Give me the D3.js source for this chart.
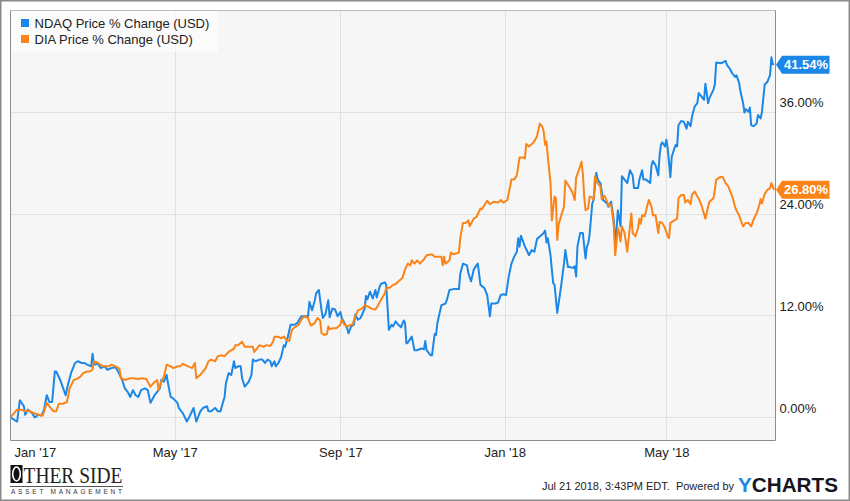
<!DOCTYPE html>
<html><head><meta charset="utf-8">
<script src="https://cdn.jsdelivr.net/npm/d3@7"></script>
<style>
body{margin:0;background:#fff}
svg{display:block}
text{font-family:"Liberation Sans",Arial,Helvetica,sans-serif}
</style>
</head><body>
<svg id="chart" width="850" height="501"></svg>
<script>
// ---- data ----
const startDate = "2016-12-30";
const seriesNames = ["NDAQ Price % Change (USD)", "DIA Price % Change (USD)"];
const seriesColors = ["#1b87e6", "#fb8418"];
const yTicks = [0, 12, 24, 36];
const xTickDates = ["2017-01-01", "2017-05-01", "2017-09-01", "2018-01-01", "2018-05-01"];
const lastValueLabels = ["41.54%", "26.80%"];
const footerText = "Jul 21 2018, 3:43PM EDT.  Powered by";

// days since startDate
const ndaqDays = [0,5,7,10,11,13,16,18,21,23,25,27,29,31,33,34,37,39,41,43,45,48,50,53,55,57,60,61,62,65,67,70,72,75,78,80,83,85,87,89,91,93,95,97,100,102,104,107,109,111,112,114,116,117,119,121,124,125,128,131,133,136,138,141,143,146,147,149,152,154,156,157,159,160,162,164,166,167,169,171,172,174,177,179,180,182,185,187,189,191,193,194,196,197,199,201,203,204,206,208,211,213,216,218,221,222,224,226,227,229,231,232,234,236,237,239,241,243,245,246,248,250,251,253,255,256,258,260,263,264,265,267,269,271,272,274,275,278,279,280,281,283,284,286,288,290,292,293,294,295,298,300,302,305,307,308,309,312,313,315,316,317,320,323,324,326,329,333,334,336,339,340,342,344,346,347,349,352,354,356,357,360,362,364,366,368,370,372,374,376,377,378,379,382,383,385,387,389,391,393,396,397,398,399,401,402,403,404,406,407,409,411,412,414,415,418,419,420,421,423,425,427,428,429,430,432,433,435,436,438,439,440,443,444,446,448,449,450,451,453,454,456,458,460,462,463,466,467,469,470,472,475,476,477,479,481,482,483,484,486,487,488,490,491,493,494,495,496,498,500,502,503,505,506,508,510,511,513,515,516,518,519,522,523,524,527,529,531,532,534,536,538,539,541,542,544,545,546,548,549,550,552,554,555,557,558,560,562,564,565,566,567];
const ndaqValues = [0,-0.5,2.0,1.3,0.3,0.9,0.5,0.0,0.3,0.2,0.9,2.6,1.8,1.8,5.4,5.4,4.4,3.5,2.6,4.0,5.2,6.4,6.6,6.4,6.4,6.2,6.0,7.5,6.2,6.3,5.8,6.0,5.6,5.8,5.9,5.4,4.4,3.4,3.0,2.4,3.2,2.6,2.4,3.2,3.4,3.2,1.7,2.6,3.0,3.4,4.4,4.2,5.0,4.0,2.4,2.2,1.7,1.1,0.5,-0.5,0.1,1.1,-0.5,0.7,1.1,1.3,0.7,0.7,1.1,0.7,0.7,1.3,2.4,4.0,5.2,5.0,6.6,5.8,6.0,6.0,4.6,3.6,4.2,5.0,6.8,6.6,6.8,6.8,6.4,6.8,6.6,6.0,6.6,6.0,6.4,7.1,8.5,8.3,9.5,10.9,10.9,11.1,11.9,11.9,11.9,13.6,12.6,13.8,14.6,15.0,12.6,11.7,12.2,13.8,11.8,12.8,12.7,11.9,12.4,11.7,11.1,10.5,9.9,10.7,10.9,12.1,11.5,11.7,12.8,14.3,13.9,14.8,14.0,15.0,14.1,15.3,15.7,15.9,15.6,13.0,10.3,10.9,10.7,11.3,10.9,10.6,11.4,11.1,8.7,8.8,9.5,7.9,7.9,8.1,8.0,9.0,7.9,7.3,7.3,9.8,9.7,11.1,13.2,13.4,13.8,15.0,15.1,15.1,16.9,18.1,17.9,17.0,16.0,17.4,17.9,18.1,15.6,15.2,14.4,11.9,13.4,13.4,13.5,14.4,14.5,14.4,16.6,18.1,18.9,19.5,21.1,20.1,21.4,20.1,19.8,19.1,19.7,19.5,21.0,21.3,21.7,22.0,20.6,21.1,19.1,17.4,15.8,15.6,12.3,13.4,15.6,18.1,19.7,17.7,17.7,17.6,17.8,16.6,20.1,21.7,21.7,18.7,20.1,20.5,21.5,25.2,25.6,28.8,28.0,27.6,26.6,25.6,25.2,24.8,25.4,23.2,20.5,22.1,24.4,22.5,28.4,28.0,27.6,29.1,28.5,27.0,27.0,28.0,29.1,28.0,28.0,27.6,29.7,30.2,29.7,28.5,30.9,32.1,32.4,31.9,32.7,31.7,28.3,30.7,31.7,32.1,31.9,34.4,34.9,34.8,34.0,34.8,34.3,35.4,36.6,37.0,38.2,37.8,37.4,39.3,37.0,37.6,38.6,39.2,41.8,41.7,41.8,42.0,41.5,41.1,40.5,40.1,40.3,39.4,38.4,37.0,35.9,36.3,36.0,36.5,34.4,34.3,34.6,35.6,35.2,36.0,39.2,39.5,40.3,42.4,41.6,41.54];

const diaDays = [0,5,8,11,14,17,21,24,27,29,32,34,36,39,42,44,47,49,52,54,57,59,61,62,65,69,73,75,78,81,82,85,89,91,95,98,101,104,106,109,110,112,114,116,119,121,124,126,128,132,135,137,138,141,145,147,149,152,154,157,159,162,166,167,169,172,174,177,180,181,183,185,188,190,193,195,196,199,201,203,205,207,209,211,214,216,218,221,223,226,228,230,231,233,235,236,237,240,242,245,246,248,250,253,254,256,258,261,263,266,268,271,273,275,278,279,282,284,286,288,291,293,295,297,298,300,302,304,307,309,313,315,318,320,321,322,323,326,327,329,333,334,336,338,340,341,344,346,349,350,352,354,356,359,362,364,366,369,370,372,374,376,378,381,382,383,385,388,390,391,393,395,396,397,398,399,401,402,404,405,406,407,409,411,412,414,417,419,420,422,424,425,426,427,429,430,432,433,434,436,438,439,441,443,444,446,448,449,450,451,452,453,454,456,458,460,461,462,464,466,467,468,469,471,473,474,476,477,479,481,482,484,486,488,489,490,493,495,496,498,500,501,503,505,506,508,510,511,513,516,518,519,522,523,524,527,529,531,533,534,536,538,539,541,543,544,546,548,550,552,554,556,557,558,560,562,564,565,566,567];
const diaValues = [0,0.9,0.9,0.7,0.8,0.5,0.3,0.2,1.7,1.3,0.7,0.7,1.6,1.6,1.8,3.4,4.4,4.5,4.8,5.2,5.4,5.4,5.6,6.6,6.4,6.0,6.0,6.2,6.0,5.7,4.6,4.4,4.6,4.6,4.5,4.6,4.5,3.6,4.0,4.4,3.2,4.2,4.8,6.2,6.0,5.8,6.0,6.0,6.3,6.0,5.8,6.4,4.6,5.0,5.8,6.6,6.8,6.6,7.2,7.3,7.2,7.7,8.1,8.5,8.5,8.9,8.3,8.3,8.3,7.7,8.1,8.5,8.3,8.5,8.4,8.9,9.5,9.5,9.3,9.5,9.1,9.0,10.3,10.6,10.9,11.5,11.9,11.7,10.8,11.1,11.7,11.4,9.9,9.7,9.8,10.7,10.4,10.5,10.5,10.9,11.5,10.9,10.7,10.9,10.9,11.9,12.6,12.8,13.2,13.0,12.8,12.7,13.2,13.8,14.6,15.2,15.3,15.6,15.7,16.0,16.4,17.4,18.1,17.9,18.5,18.1,18.5,18.1,18.6,19.1,19.2,18.9,18.9,18.9,17.9,18.9,18.1,18.5,19.4,19.2,19.4,21.1,22.9,22.9,23.2,22.5,23.4,23.6,24.6,24.5,25.0,25.5,25.1,25.4,25.3,25.6,25.3,25.6,26.4,28.0,28.0,28.5,30.6,30.6,30.5,32.2,31.9,32.3,32.8,33.1,34.6,34.2,33.6,32.1,32.5,30.7,27.6,23.2,26.0,25.8,20.9,22.7,23.8,24.8,27.9,27.4,26.6,25.6,28.2,29.1,30.1,28.7,26.0,24.4,24.6,26.0,25.9,25.6,28.4,27.6,27.2,25.7,26.1,25.4,24.9,25.1,22.5,19.1,20.5,22.3,21.7,20.7,22.5,21.7,19.5,22.5,24.0,21.7,21.3,22.3,23.4,22.8,23.8,23.7,25.0,25.6,24.8,23.8,23.8,21.7,23.0,22.9,22.3,21.3,21.1,22.9,23.2,23.4,25.8,26.2,26.2,25.3,25.6,25.1,26.2,26.6,26.0,25.8,25.0,23.4,24.8,25.4,25.8,26.8,28.0,28.3,28.3,27.6,27.2,26.8,26.0,24.8,24.4,23.8,22.9,22.5,22.9,22.9,22.5,23.4,24.0,25.0,25.7,25.2,26.3,26.8,27.0,27.6,27.2,26.8];

// ---- layout ----
const W = 850, H = 501;
const plot = {left: 10.5, top: 10.5, right: 775.5, bottom: 440.5};
const parse = d3.timeParse("%Y-%m-%d");
const t0 = parse(startDate);
const dayToDate = d => d3.timeDay.offset(t0, d);

const x = d3.scaleTime()
  .domain([t0, dayToDate(567)])
  .range([10.4, 774.1]);
const y = d3.scaleLinear().domain([0, 36]).range([417.3, 111.7]);

const svg = d3.select("#chart");

// outer border
svg.append("rect").attr("x", 0.75).attr("y", 0.75).attr("width", W - 1.5).attr("height", H - 1.5)
  .attr("fill", "#fff").attr("stroke", "#8a8a8a").attr("stroke-width", 1.5);

// plot background
svg.append("rect").attr("x", plot.left).attr("y", plot.top)
  .attr("width", plot.right - plot.left).attr("height", plot.bottom - plot.top)
  .attr("fill", "#f6f6f6");

svg.append("defs").append("clipPath").attr("id", "clip")
  .append("rect").attr("x", plot.left).attr("y", plot.top)
  .attr("width", plot.right - plot.left).attr("height", plot.bottom - plot.top);

// gridlines
const xTicks = xTickDates.map(parse);
svg.append("g").selectAll("line").data(yTicks).join("line")
  .attr("x1", plot.left).attr("x2", plot.right)
  .attr("y1", d => Math.round(y(d)) + 0.5).attr("y2", d => Math.round(y(d)) + 0.5)
  .attr("stroke", "#e1e1e1").attr("stroke-width", 1);
svg.append("g").selectAll("line").data(xTicks.slice(1)).join("line")
  .attr("x1", d => Math.round(x(d)) + 0.5).attr("x2", d => Math.round(x(d)) + 0.5)
  .attr("y1", plot.top).attr("y2", plot.bottom)
  .attr("stroke", "#e1e1e1").attr("stroke-width", 1);

// series lines
const series = [
  {days: ndaqDays, values: ndaqValues},
  {days: diaDays, values: diaValues}
];
const line = d3.line().x(d => x(d[0])).y(d => y(d[1]));
const gLines = svg.append("g").attr("clip-path", "url(#clip)");
// draw DIA first, NDAQ on top? In reference orange mostly on top in overlaps
[0, 1].forEach(i => {
  const s = series[i];
  const pts = s.days.map((d, k) => [dayToDate(d), s.values[k]]);
  gLines.append("path").datum(pts)
    .attr("d", line).attr("fill", "none")
    .attr("stroke", seriesColors[i]).attr("stroke-width", 2)
    .attr("stroke-linejoin", "round");
});

// plot border
svg.append("path")
  .attr("d", `M${plot.left},${plot.top}H${plot.right}V${plot.bottom}H${plot.left}Z`)
  .attr("fill", "none").attr("stroke", "#8c8c8c").attr("stroke-width", 1);
svg.append("line").attr("x1", plot.left).attr("x2", plot.right).attr("y1", plot.top).attr("y2", plot.top)
  .attr("stroke", "#bdbdbd").attr("stroke-width", 1);

// y axis (right)
const yAxis = d3.axisRight(y).tickValues(yTicks).tickSize(0)
  .tickFormat(d => d.toFixed(2) + "%");
const gy = svg.append("g").attr("transform", `translate(${plot.right + 4},0)`).call(yAxis);
gy.select(".domain").remove();
gy.selectAll("text").attr("x", 0).attr("y", -9).attr("dy", "0.32em")
  .attr("fill", "#222").style("font-size", "13px")
  .style("font-family", '"Liberation Sans",Arial,sans-serif');

// x axis
const xAxis = d3.axisBottom(x).tickValues(xTicks).tickSize(0).tickFormat(d3.timeFormat("%b '%y"));
const gx = svg.append("g").attr("transform", `translate(0,${plot.bottom})`).call(xAxis);
gx.select(".domain").remove();
gx.selectAll("text").attr("y", 7).attr("fill", "#222").style("font-size", "13px")
  .style("font-family", '"Liberation Sans",Arial,sans-serif');
gx.selectAll(".tick").filter((d, i) => i === 0).select("text")
  .attr("text-anchor", "start").attr("x", 1);

// legend
const leg = svg.append("g");
leg.append("rect").attr("x", plot.left + 0.5).attr("y", plot.top + 0.5).attr("width", 207).attr("height", 41)
  .attr("fill", "#ffffff").attr("fill-opacity", 0.6);
seriesNames.forEach((name, i) => {
  const yy = 19 + i * 16;
  leg.append("rect").attr("x", 21).attr("y", yy).attr("width", 8).attr("height", 8).attr("fill", seriesColors[i]);
  leg.append("text").attr("x", 34.5).attr("y", yy + 8.5).text(name)
    .attr("fill", "#222").style("font-size", "13px");
});

// last value tags
const lastVals = [ndaqValues[ndaqValues.length - 1], diaValues[diaValues.length - 1]];
lastVals.forEach((v, i) => {
  const cy = y(v);
  const x0 = plot.right + 0.5;
  svg.append("path")
    .attr("d", `M${x0},${cy}L${x0 + 6},${cy - 9}H829.5V${cy + 9}H${x0 + 6}Z`)
    .attr("fill", seriesColors[i]);
  svg.append("text").attr("x", 784).attr("y", cy + 4.6).text(lastValueLabels[i])
    .attr("fill", "#fff").style("font-size", "13px").style("font-weight", "bold");
});

// footer: Other Side logo
const logo = svg.append("g");
logo.append("rect").attr("x", 10.5).attr("y", 465).attr("width", 12).attr("height", 18).attr("fill", "#111");
logo.append("ellipse").attr("cx", 16.5).attr("cy", 474).attr("rx", 3.8).attr("ry", 7)
  .attr("fill", "none").attr("stroke", "#fff").attr("stroke-width", 1.6);
logo.append("text").attr("x", 23.5).attr("y", 482.5).text("THER SIDE")
  .attr("textLength", 99).attr("lengthAdjust", "spacingAndGlyphs")
  .style("font-family", '"Liberation Serif","DejaVu Serif",serif').style("font-size", "23px")
  .attr("fill", "#222");
logo.append("line").attr("x1", 10).attr("x2", 123).attr("y1", 486.5).attr("y2", 486.5)
  .attr("stroke", "#555").attr("stroke-width", 1);
logo.append("text").attr("x", 11).attr("y", 494).text("ASSET MANAGEMENT")
  .attr("textLength", 111).attr("lengthAdjust", "spacing")
  .style("font-size", "6.5px").attr("fill", "#333");

// footer: timestamp + YCHARTS
svg.append("text").attr("x", 734).attr("y", 490).attr("text-anchor", "end")
  .style("white-space", "pre").style("font-size", "11px").attr("fill", "#222").text(footerText);
const yc = svg.append("text").attr("x", 738).attr("y", 492).style("font-size", "21px")
  .style("font-weight", "bold").attr("textLength", 100).attr("lengthAdjust", "spacingAndGlyphs");
yc.append("tspan").attr("fill", "#1b87e6").text("Y");
yc.append("tspan").attr("fill", "#15161f").text("CHARTS");
</script>
</body></html>
